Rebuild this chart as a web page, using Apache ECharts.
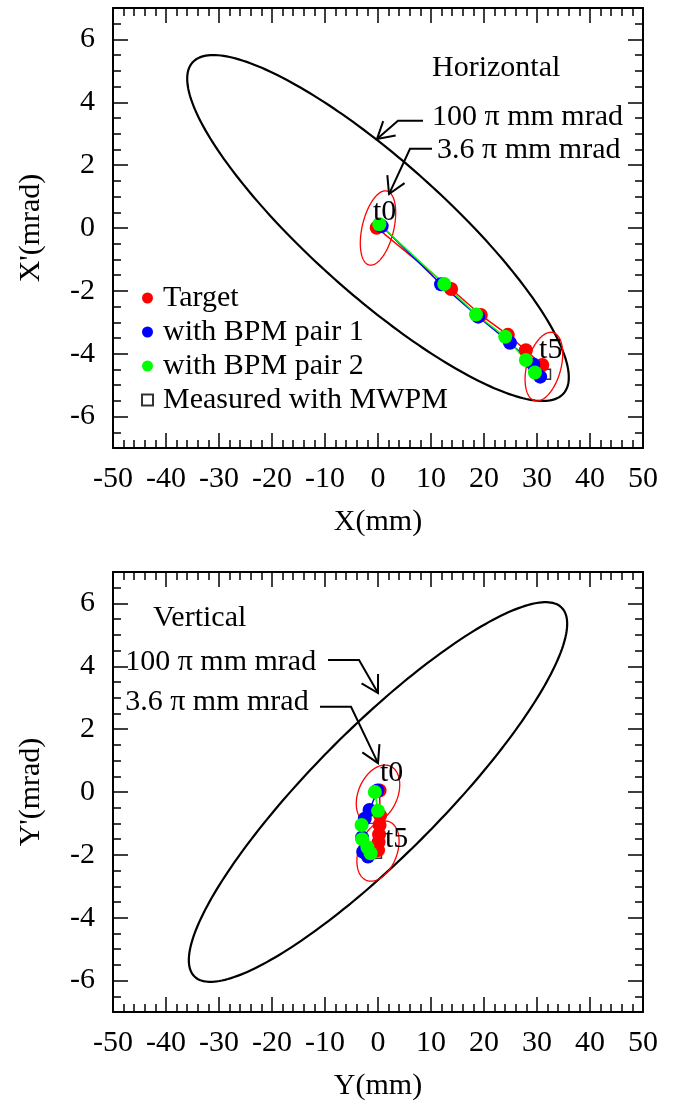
<!DOCTYPE html>
<html>
<head>
<meta charset="utf-8">
<script src="https://cdn.jsdelivr.net/npm/echarts@6/dist/echarts.min.js"></script>
<style>
  html, body { margin: 0; padding: 0; background: #fff; }
  #chart { width: 684px; height: 1106px; }
</style>
</head>
<body>
<div id="chart"></div>
<script>
const FONT = '"Liberation Serif", "Times New Roman", serif';

// ---- horizontal plane (top) : [x (mm), x' (mrad)] at t0..t5
const hTarget = [[-0.25, 0.01], [13.8, -1.94], [19.4, -2.77], [24.5, -3.4], [27.9, -3.89], [31.0, -4.36]];
const hBpm1 = [[0.7, 0.06], [11.9, -1.79], [18.9, -2.82], [24.9, -3.65], [29.3, -4.34], [30.6, -4.73]];
const hBpm2 = [[0.25, 0.12], [12.5, -1.78], [18.5, -2.75], [24.0, -3.46], [27.9, -4.2], [29.6, -4.6]];
const hMwpm = [[31.6, -4.65]];

// ellipses: emittance (pi mm mrad), twiss alpha, beta, centre
const hEllEmit = [100, 3.6, 3.6];
const hEllAlpha = [1.71, -0.45, -0.4];
const hEllBeta = [12.96, 3.1, 3.5];
const hEllCenter = [[0, 0], [0, 0], [31.3, -4.41]];

// ---- vertical plane (bottom) : [y (mm), y' (mrad)]
const vTarget = [[0.3, 0.05], [0.4, -0.75], [0.3, -1.05], [0.2, -1.35], [0.1, -1.6], [0.0, -1.85]];
const vBpm1 = [[-0.1, 0.05], [-1.6, -0.57], [-2.5, -0.85], [-3.0, -1.45], [-2.8, -1.9], [-1.9, -2.05]];
const vBpm2 = [[-0.6, 0.0], [0.0, -0.6], [-3.1, -1.05], [-3.0, -1.5], [-2.0, -1.76], [-1.4, -1.95]];
const vMwpm = [[-0.3, -1.95]];

const vEllEmit = [100, 3.6, 3.6];
const vEllAlpha = [-1.91, -0.34, -0.35];
const vEllBeta = [12.74, 4.67, 4.4];
const vEllCenter = [[0, 0], [0, -0.07], [0, -1.88]];

const ellColor = ['#000', '#f00', '#f00'];
const ellWidth = [2.2, 1.3, 1.3];

// annotation arrows (data coords, last point = tip)
const hArrows = [[[8.49, 3.41], [3.77, 3.41], [-0.19, 2.83]], [[10.19, 2.52], [6.04, 2.52], [2.08, 1.08]]];
const vArrows = [[[-9.43, 4.20], [-3.58, 4.20], [0, 3.15]], [[-10.94, 2.71], [-5.09, 2.71], [0, 0.92]]];

// text notes
const hNotes = ['Horizontal', '100 π mm mrad', '3.6 π mm mrad', 't0', 't5'];
const hNotePos = [[10.19, 5.10], [10.19, 3.54], [11.13, 2.48], [-0.94, 0.51], [30.4, -3.87]];
const vNotes = ['Vertical', '100 π mm mrad', '3.6 π mm mrad', 't0', 't5'];
const vNotePos = [[-42.45, 5.54], [-47.7, 4.14], [-47.7, 2.87], [0.38, 0.59], [1.32, -1.50]];

const yMajor = [-6, -4, -2, 0, 2, 4, 6];
const names = ['Target', 'with BPM pair 1', 'with BPM pair 2', 'Measured with MWPM'];
const colors = ['#ff0000', '#0000ff', '#00ff00'];

const chart = echarts.init(document.getElementById('chart'));

const lineCol = { color: '#000', width: 2 };
const tickCol = { color: '#000', width: 1.5 };

function xAxes(g, title) {
  return [{
    gridIndex: g, type: 'value', min: -50, max: 50, interval: 10, position: 'bottom',
    axisLine: { show: true, onZero: false, lineStyle: lineCol },
    axisTick: { inside: true, length: 15, lineStyle: tickCol },
    minorTick: { show: true, splitNumber: 5, length: 8, lineStyle: tickCol },
    splitLine: { show: false },
    axisLabel: { fontSize: 30, fontFamily: FONT, color: '#000', margin: 16, lineHeight: 30 },
    name: title, nameLocation: 'middle', nameGap: 59,
    nameTextStyle: { fontSize: 30, fontFamily: FONT, color: '#000', lineHeight: 30 }
  }, {
    gridIndex: g, type: 'value', min: -50, max: 50, interval: 10, position: 'top',
    axisLine: { show: true, onZero: false, lineStyle: lineCol },
    axisTick: { inside: true, length: 15, lineStyle: tickCol },
    minorTick: { show: true, splitNumber: 5, length: 8, lineStyle: tickCol },
    splitLine: { show: false }, axisLabel: { show: false }
  }];
}

function yAxes(g, title) {
  const base = { gridIndex: g, type: 'value', min: -7, max: 7, splitLine: { show: false } };
  return [
    Object.assign({}, base, {
      position: 'left', interval: 0.5,
      axisLine: { show: true, onZero: false, lineStyle: lineCol },
      axisTick: { inside: true, length: 8, lineStyle: tickCol },
      axisLabel: { customValues: yMajor, fontSize: 30, fontFamily: FONT, color: '#000', margin: 18 },
      name: title, nameLocation: 'middle', nameGap: 67,
      nameTextStyle: { fontSize: 30, fontFamily: FONT, color: '#000', lineHeight: 30 }
    }),
    Object.assign({}, base, {
      position: 'left',
      axisLine: { show: false, onZero: false },
      axisTick: { inside: true, length: 15, customValues: yMajor, lineStyle: tickCol },
      axisLabel: { show: false }
    }),
    Object.assign({}, base, {
      position: 'right', interval: 0.5,
      axisLine: { show: true, onZero: false, lineStyle: lineCol },
      axisTick: { inside: true, length: 8, lineStyle: tickCol },
      axisLabel: { show: false }
    }),
    Object.assign({}, base, {
      position: 'right',
      axisLine: { show: false, onZero: false },
      axisTick: { inside: true, length: 15, customValues: yMajor, lineStyle: tickCol },
      axisLabel: { show: false }
    })
  ];
}

function ellipseSeries(xi, yi, centers, emit, alpha, beta) {
  return {
    type: 'custom', xAxisIndex: xi, yAxisIndex: yi, silent: true, data: centers,
    renderItem: function (params, api) {
      const i = params.dataIndex;
      const a = Math.sqrt(emit[i] * beta[i]);
      const b = Math.sqrt(emit[i] / beta[i]);
      const pts = [];
      for (let k = 0; k <= 240; k++) {
        const t = 2 * Math.PI * k / 240;
        pts.push(api.coord([centers[i][0] + a * Math.cos(t),
                            centers[i][1] - b * (alpha[i] * Math.cos(t) + Math.sin(t))]));
      }
      return { type: 'polyline', shape: { points: pts },
               style: { stroke: ellColor[i], lineWidth: ellWidth[i], fill: null } };
    }
  };
}

function arrowSeries(xi, yi, paths) {
  return {
    type: 'custom', xAxisIndex: xi, yAxisIndex: yi, silent: true,
    data: paths.map(p => p[p.length - 1]),
    renderItem: function (params, api) {
      const pts = paths[params.dataIndex].map(p => api.coord(p));
      const n = pts.length;
      const tip = pts[n - 1], prev = pts[n - 2];
      const ang = Math.atan2(prev[1] - tip[1], prev[0] - tip[0]);
      const L = 19, d = 30 * Math.PI / 180;
      const head = [
        [tip[0] + L * Math.cos(ang + d), tip[1] + L * Math.sin(ang + d)],
        tip,
        [tip[0] + L * Math.cos(ang - d), tip[1] + L * Math.sin(ang - d)]
      ];
      return { type: 'group', children: [
        { type: 'polyline', shape: { points: pts }, style: { stroke: '#000', lineWidth: 2, fill: null } },
        { type: 'polyline', shape: { points: head }, style: { stroke: '#000', lineWidth: 2, fill: null } }
      ] };
    }
  };
}

function noteSeries(xi, yi, texts, pos) {
  return {
    type: 'custom', xAxisIndex: xi, yAxisIndex: yi, silent: true, data: pos, z: 5,
    renderItem: function (params, api) {
      const p = api.coord(pos[params.dataIndex]);
      return { type: 'text', x: p[0], y: p[1],
               style: { text: texts[params.dataIndex], font: '30px ' + FONT, fill: '#000',
                        align: 'left', verticalAlign: 'middle' } };
    }
  };
}

function pointSeries(xi, yi, sets, mwpm) {
  const out = [{
    type: 'scatter', name: names[3], xAxisIndex: xi, yAxisIndex: yi, data: mwpm,
    symbol: 'rect', symbolSize: 10,
    itemStyle: { color: '#fff', borderColor: '#000', borderWidth: 1.5 }
  }];
  sets.forEach((d, k) => {
    out.push({
      type: 'line', name: names[k], xAxisIndex: xi, yAxisIndex: yi, data: d,
      symbol: 'circle', symbolSize: 14, showSymbol: true,
      itemStyle: { color: colors[k] },
      lineStyle: { color: colors[k], width: 1.5 }
    });
  });
  return out;
}

chart.setOption({
  backgroundColor: '#fff',
  animation: false,
  grid: [
    { left: 113, top: 8, width: 530, height: 440 },
    { left: 113, top: 572, width: 530, height: 440 }
  ],
  xAxis: xAxes(0, 'X(mm)').concat(xAxes(1, 'Y(mm)')),
  yAxis: yAxes(0, "X'(mrad)").concat(yAxes(1, "Y'(mrad)")),
  legend: {
    orient: 'vertical', left: 141, top: 283, padding: 0,
    itemWidth: 11, itemHeight: 11, itemGap: 4, selectedMode: false,
    textStyle: { fontSize: 30, fontFamily: FONT, color: '#000', lineHeight: 30, padding: [0, 0, 0, 5] },
    data: [
      { name: names[0], icon: 'circle' },
      { name: names[1], icon: 'circle' },
      { name: names[2], icon: 'circle' },
      { name: names[3], icon: 'rect' }
    ]
  },
  series: [].concat(
    [ellipseSeries(0, 0, hEllCenter, hEllEmit, hEllAlpha, hEllBeta)],
    pointSeries(0, 0, [hTarget, hBpm1, hBpm2], hMwpm),
    [arrowSeries(0, 0, hArrows), noteSeries(0, 0, hNotes, hNotePos)],
    [ellipseSeries(2, 4, vEllCenter, vEllEmit, vEllAlpha, vEllBeta)],
    pointSeries(2, 4, [vTarget, vBpm1, vBpm2], vMwpm),
    [arrowSeries(2, 4, vArrows), noteSeries(2, 4, vNotes, vNotePos)]
  )
});
</script>
</body>
</html>
